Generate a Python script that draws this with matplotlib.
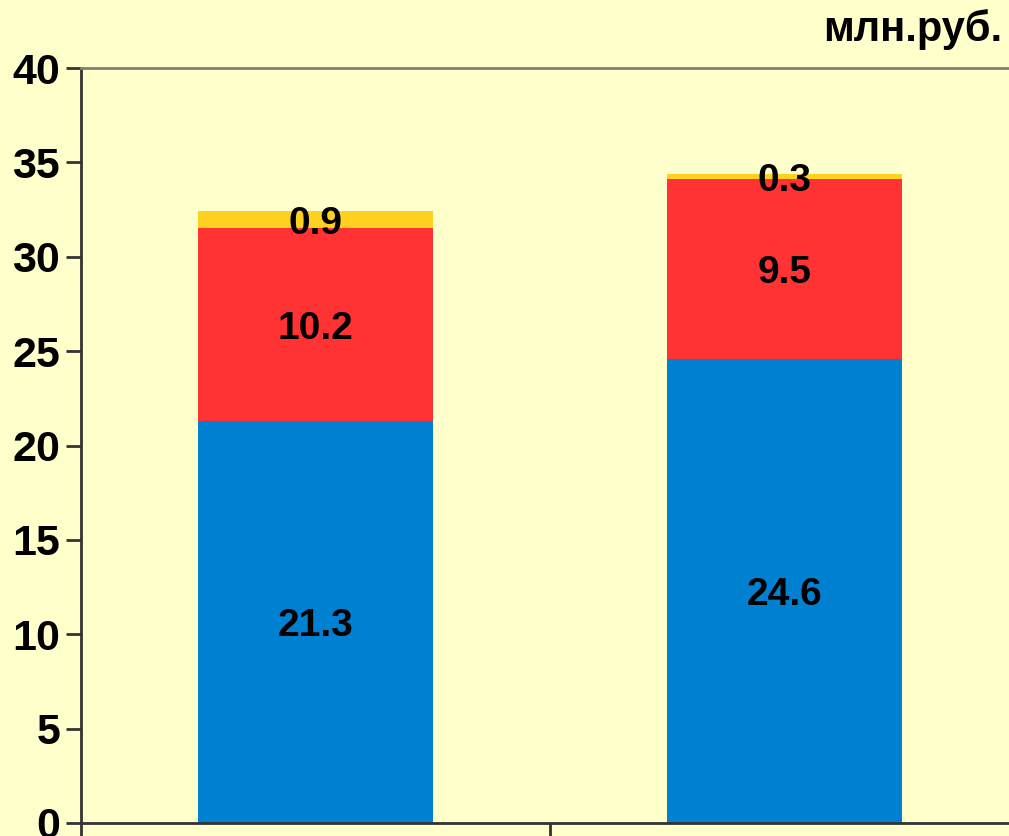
import matplotlib
matplotlib.use("Agg")
import matplotlib.pyplot as plt
import numpy as np

categories = ["A", "B"]
series_blue = [21.3, 24.6]
series_red = [10.2, 9.5]
series_yellow = [0.9, 0.3]
yticks = [0, 5, 10, 15, 20, 25, 30, 35, 40]
unit_label = "млн.руб."

plt.rcParams['font.family'] = ['Liberation Sans', 'DejaVu Sans']
plt.rcParams['font.weight'] = 'bold'

bg = '#FFFFCC'
fig = plt.figure(figsize=(10.09, 8.36), dpi=100, facecolor=bg)
W, H = 1009, 836
ax = fig.add_axes([81 / W, (836 - 823) / H, 938 / W, (823 - 68) / H])
ax.set_facecolor(bg)

x = np.arange(len(categories))
colors = ['#0080D0', '#FF3333', '#FFD020']
bottom = np.zeros(len(categories))
for vals, c in zip([series_blue, series_red, series_yellow], colors):
    vals = np.array(vals)
    ax.bar(x, vals, width=0.5, bottom=bottom, color=c, edgecolor='none', zorder=2)
    for xi, b, v in zip(x, bottom, vals):
        ax.text(xi, b + v / 2, f"{v:.1f}", ha='center', va='center_baseline',
                fontsize=28, fontweight='bold', color='black', zorder=3)
    bottom = bottom + vals

ax.set_xlim(-0.5, 1.5)
ax.set_ylim(0, 40)
ax.set_yticks(yticks)
ax.set_yticklabels([str(t) for t in yticks], fontsize=31, fontweight='bold')
ax.set_xticks([-0.5, 0.5, 1.5])
ax.set_xticklabels([])
ax.tick_params(axis='y', direction='out', length=11, width=2, pad=4, color='#333333')
ax.tick_params(axis='x', direction='out', length=11, width=2, color='#333333')

for s in ['left', 'bottom']:
    ax.spines[s].set_color('#333333')
    ax.spines[s].set_linewidth(2)
ax.spines['top'].set_color('#808070')
ax.spines['top'].set_linewidth(2)
ax.spines['right'].set_visible(False)

fig.text(1002 / W, 1 - 30 / H, unit_label, ha='right', va='center',
         fontsize=30, fontweight='bold')

fig.savefig("out.png", dpi=100, facecolor=bg)
